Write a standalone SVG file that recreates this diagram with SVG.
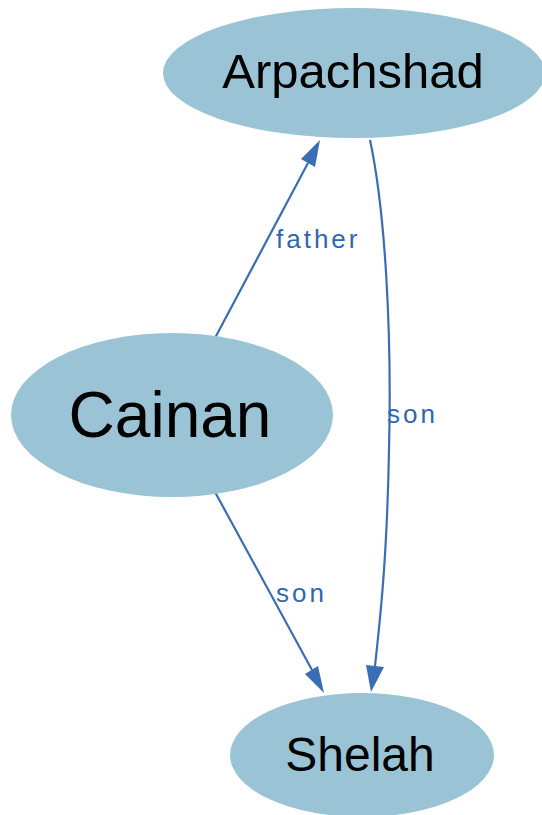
<svg xmlns="http://www.w3.org/2000/svg" width="542" height="815" viewBox="0 0 542 815">
<style>
.node{fill:#9ac3d5;stroke:none}
.ntext{font-family:"Liberation Sans",Arial,sans-serif;fill:#000;text-anchor:middle}
.edge{fill:none;stroke:#3a6db5;stroke-width:2.2}
.head{fill:#3a6db5;stroke:none}
.elabel{font-family:"Liberation Sans",Arial,sans-serif;font-size:26px;fill:#2f67b0;letter-spacing:3px}
</style>
<rect width="542" height="815" fill="#fff"/>
<g id="connectors">
  <g id="e-cainan-arpachshad">
    <path class="edge" d="M215,338 L308,163"/>
    <polygon class="head" points="320,140 315,167 301,159"/>
    <text class="elabel" x="276" y="248">father</text>
  </g>
  <g id="e-arpachshad-shelah">
    <path class="edge" d="M370,140 C385,210 392,330 389,450 C387,560 380,620 375,666"/>
    <polygon class="head" points="371,692 366,665 384,667"/>
    <text class="elabel" x="387" y="423">son</text>
  </g>
  <g id="e-cainan-shelah">
    <path class="edge" d="M215,492 L312,670"/>
    <polygon class="head" points="324,693 305,674 318,666"/>
    <text class="elabel" x="276" y="602">son</text>
  </g>
</g>
<g id="arpachshad">
  <ellipse class="node" cx="354" cy="73" rx="191" ry="65"/>
  <text class="ntext" x="353" y="88" font-size="49">Arpachshad</text>
</g>
<g id="cainan">
  <ellipse class="node" cx="172" cy="415" rx="161" ry="82"/>
  <text class="ntext" x="170" y="437" font-size="64">Cainan</text>
</g>
<g id="shelah">
  <ellipse class="node" cx="362" cy="755" rx="132" ry="62"/>
  <text class="ntext" x="360" y="771" font-size="48">Shelah</text>
</g>
</svg>
